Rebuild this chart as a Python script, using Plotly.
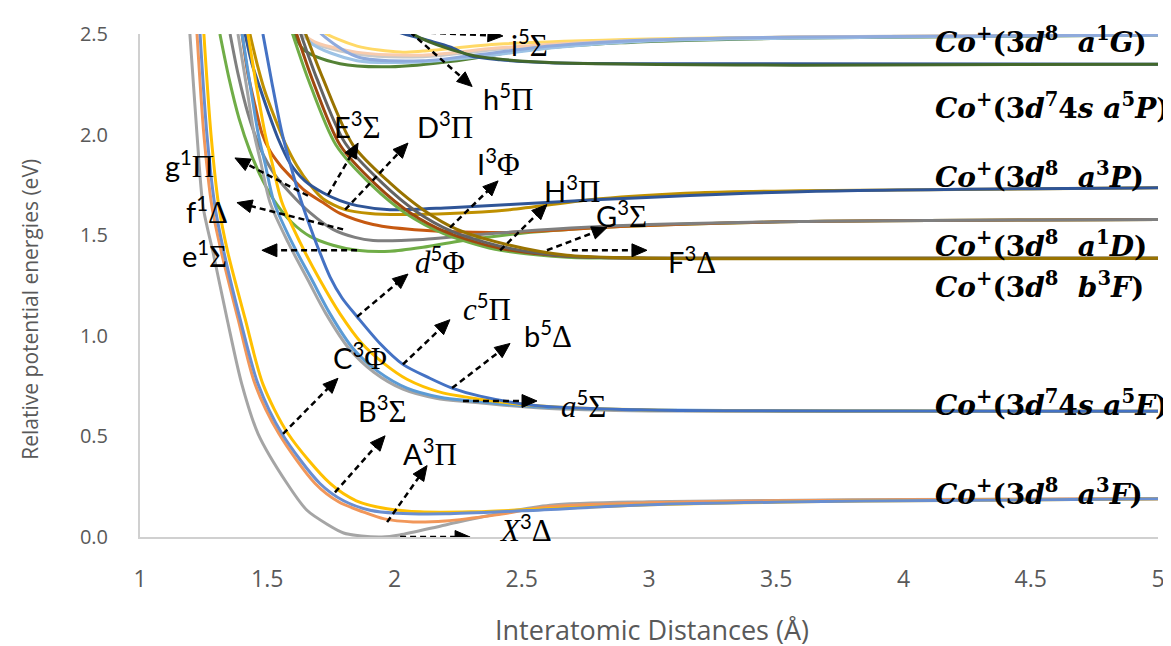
import math
import plotly.graph_objects as go

# ---------------- data: potential energy curves (r in Angstrom, E in eV) ----------------
# Co+(3d8 a3F) asymptote
X3D_r = [1.196, 1.224, 1.248, 1.287, 1.342, 1.40, 1.464, 1.578, 1.656, 1.74, 1.80, 1.87, 1.95, 2.02, 2.2, 2.415, 2.611, 3.0, 3.5, 4.0, 5.0]
X3D_E = [2.5, 2.0, 1.64, 1.415, 1.085, 0.76, 0.513, 0.266, 0.133, 0.06, 0.02, 0.005, 0.0, 0.01, 0.06, 0.118, 0.158, 0.175, 0.182, 0.186, 0.19]
A3P_r = [1.224, 1.251, 1.283, 1.32, 1.385, 1.452, 1.546, 1.688, 1.78, 1.876, 1.96, 2.073, 2.2, 2.4, 2.6, 3.0, 3.5, 4.0, 5.0]
A3P_E = [2.5, 2.0, 1.64, 1.415, 1.085, 0.76, 0.513, 0.266, 0.175, 0.125, 0.09, 0.075, 0.08, 0.11, 0.15, 0.17, 0.18, 0.185, 0.19]
B3S_r = [1.236, 1.263, 1.295, 1.33, 1.393, 1.464, 1.558, 1.707, 1.80, 1.904, 2.01, 2.2, 2.5, 3.0, 3.6, 4.0, 5.0]
B3S_E = [2.5, 2.0, 1.64, 1.415, 1.085, 0.76, 0.513, 0.266, 0.18, 0.133, 0.118, 0.115, 0.13, 0.16, 0.175, 0.18, 0.19]
C3F_r = [1.251, 1.279, 1.31, 1.345, 1.413, 1.483, 1.582, 1.747, 1.85, 1.971, 2.1, 2.3, 2.6, 3.0, 3.6, 4.0, 5.0]
C3F_E = [2.5, 2.0, 1.64, 1.415, 1.085, 0.76, 0.513, 0.266, 0.18, 0.14, 0.125, 0.125, 0.14, 0.16, 0.175, 0.18, 0.19]

# Co+(3d7 4s a5F) asymptote
a5S_r = [1.385, 1.417, 1.448, 1.475, 1.511, 1.582, 1.660, 1.731, 1.821, 1.919, 2.033, 2.163, 2.297, 2.572, 3.004, 3.986, 5.0]
a5S_E = [2.5, 2.253, 2.007, 1.859, 1.662, 1.464, 1.277, 1.109, 0.937, 0.819, 0.735, 0.690, 0.671, 0.641, 0.626, 0.625, 0.625]
b5D_r = [1.401, 1.432, 1.464, 1.491, 1.527, 1.597, 1.676, 1.747, 1.837, 1.935, 2.049, 2.179, 2.308, 2.572, 3.004, 3.986, 5.0]
b5D_E = [2.5, 2.253, 2.007, 1.859, 1.662, 1.464, 1.277, 1.109, 0.937, 0.823, 0.740, 0.695, 0.676, 0.646, 0.631, 0.626, 0.625]
c5P_r = [1.424, 1.456, 1.491, 1.519, 1.558, 1.629, 1.707, 1.786, 1.872, 1.963, 2.049, 2.179, 2.336, 2.572, 3.004, 3.986, 5.0]
c5P_E = [2.5, 2.253, 2.007, 1.859, 1.662, 1.464, 1.277, 1.109, 0.962, 0.858, 0.784, 0.720, 0.685, 0.651, 0.631, 0.626, 0.625]
d5F_r = [1.483, 1.519, 1.558, 1.589, 1.629, 1.684, 1.747, 1.794, 1.853, 1.943, 2.033, 2.139, 2.226, 2.336, 2.572, 3.004, 3.986, 5.0]
d5F_E = [2.5, 2.253, 2.007, 1.859, 1.686, 1.489, 1.292, 1.188, 1.095, 0.962, 0.858, 0.789, 0.740, 0.700, 0.651, 0.631, 0.626, 0.625]

# Co+(3d8 a1D) asymptote
e1S_r = [1.314, 1.350, 1.389, 1.432, 1.483, 1.538, 1.597, 1.668, 1.758, 1.853, 1.982, 2.112, 2.246, 2.493, 2.886, 3.593, 5.0]
e1S_E = [2.5, 2.278, 2.081, 1.918, 1.770, 1.652, 1.563, 1.494, 1.450, 1.425, 1.420, 1.440, 1.469, 1.509, 1.543, 1.568, 1.578]
f1D_r = [1.354, 1.385, 1.424, 1.472, 1.530, 1.589, 1.668, 1.758, 1.845, 1.916, 2.112, 2.336, 2.807, 3.593, 5.0]
f1D_E = [2.5, 2.303, 2.106, 1.933, 1.800, 1.711, 1.612, 1.529, 1.489, 1.474, 1.479, 1.504, 1.543, 1.568, 1.578]
g1P_r = [1.401, 1.424, 1.452, 1.479, 1.511, 1.550, 1.589, 1.648, 1.719, 1.786, 1.916, 2.112, 2.454, 2.886, 3.593, 5.0]
g1P_E = [2.5, 2.303, 2.145, 2.007, 1.918, 1.849, 1.795, 1.721, 1.662, 1.608, 1.553, 1.524, 1.514, 1.543, 1.568, 1.578]

# Co+(3d8 a3P) asymptote
E3S_r = [1.413, 1.440, 1.472, 1.503, 1.542, 1.589, 1.648, 1.719, 1.786, 1.853, 1.982, 2.218, 2.454, 2.807, 3.593, 5.0]
E3S_E = [2.5, 2.352, 2.229, 2.115, 1.982, 1.859, 1.770, 1.711, 1.672, 1.647, 1.627, 1.637, 1.652, 1.677, 1.716, 1.736]
D3P_r = [1.432, 1.460, 1.491, 1.527, 1.570, 1.617, 1.668, 1.719, 1.806, 1.904, 2.022, 2.218, 2.454, 2.807, 3.200, 3.593, 5.0]
D3P_E = [2.5, 2.352, 2.214, 2.091, 1.958, 1.844, 1.751, 1.681, 1.627, 1.608, 1.603, 1.608, 1.627, 1.681, 1.711, 1.721, 1.736]

# Co+(3d8 b3F) asymptote
F3D_r = [1.648, 1.719, 1.837, 1.982, 2.112, 2.246, 2.454, 2.678, 3.004, 5.0]
F3D_E = [2.510, 2.278, 1.948, 1.760, 1.627, 1.529, 1.450, 1.400, 1.386, 1.386]
G3S_r = [1.629, 1.695, 1.806, 1.951, 2.081, 2.226, 2.434, 2.678, 3.004, 5.0]
G3S_E = [2.510, 2.278, 1.958, 1.760, 1.622, 1.519, 1.440, 1.395, 1.386, 1.386]
H3P_r = [1.613, 1.676, 1.786, 1.927, 2.061, 2.206, 2.415, 2.678, 3.004, 5.0]
H3P_E = [2.510, 2.278, 1.948, 1.751, 1.612, 1.514, 1.435, 1.395, 1.386, 1.386]
I3F_r = [1.597, 1.660, 1.770, 1.912, 2.045, 2.191, 2.395, 2.678, 3.004, 5.0]
I3F_E = [2.510, 2.278, 1.948, 1.746, 1.608, 1.509, 1.430, 1.391, 1.386, 1.386]

# Co+(3d8 a1G) asymptote
t1_r = [1.66, 1.707, 1.853, 2.022, 2.112, 2.415, 3.0, 3.593, 5.0]
t1_E = [2.6, 2.52, 2.44, 2.41, 2.415, 2.45, 2.475, 2.485, 2.495]
t2_r = [1.60, 1.656, 1.853, 2.112, 2.415, 2.807, 3.593, 5.0]
t2_E = [2.6, 2.475, 2.40, 2.387, 2.426, 2.46, 2.485, 2.495]
t3_r = [1.61, 1.66, 1.85, 2.11, 2.4, 2.8, 3.6, 5.0]
t3_E = [2.6, 2.48, 2.41, 2.395, 2.43, 2.46, 2.485, 2.495]
t4_r = [1.62, 1.668, 1.853, 2.112, 2.336, 2.611, 3.0, 5.0]
t4_E = [2.6, 2.46, 2.367, 2.362, 2.387, 2.43, 2.465, 2.495]
t5_r = [1.58, 1.64, 1.786, 1.982, 2.246, 2.493, 2.886, 3.593, 5.0]
t5_E = [2.6, 2.426, 2.352, 2.337, 2.367, 2.416, 2.456, 2.48, 2.495]
t6_r = [1.68, 1.695, 1.853, 2.112, 2.297, 2.611, 3.0, 3.593, 5.0]
t6_E = [2.6, 2.525, 2.387, 2.367, 2.392, 2.44, 2.47, 2.485, 2.495]

# h5Pi / i5Sigma
h5P_r = [1.95, 1.994, 2.112, 2.218, 2.297, 2.415, 2.611, 3.0, 5.0]
h5P_E = [2.65, 2.525, 2.475, 2.436, 2.392, 2.372, 2.357, 2.352, 2.35]
i5S_r = [1.98, 2.061, 2.285, 2.544, 3.593, 5.0]
i5S_E = [2.65, 2.51, 2.40, 2.362, 2.345, 2.35]

# ---------------- styles ----------------
curves = [
    (t1_r, t1_E, "#FFD966"), (t2_r, t2_E, "#C9C9C9"), (t3_r, t3_E, "#F8CBAD"),
    (t5_r, t5_E, "#548235"), (t4_r, t4_E, "#9DC3E6"), (t6_r, t6_E, "#8FAADC"),
    (h5P_r, h5P_E, "#2F5597"), (i5S_r, i5S_E, "#43682B"),
    (D3P_r, D3P_E, "#BF9000"), (E3S_r, E3S_E, "#2F5597"),
    (e1S_r, e1S_E, "#70AD47"), (g1P_r, g1P_E, "#C65911"), (f1D_r, f1D_E, "#7F7F7F"),
    (I3F_r, I3F_E, "#70AD47"), (H3P_r, H3P_E, "#9E480E"), (G3S_r, G3S_E, "#636363"), (F3D_r, F3D_E, "#997300"),
    (a5S_r, a5S_E, "#A5A5A5"), (b5D_r, b5D_E, "#5B9BD5"), (c5P_r, c5P_E, "#FFC000"), (d5F_r, d5F_E, "#4472C4"),
    (X3D_r, X3D_E, "#A5A5A5"), (A3P_r, A3P_E, "#F1975A"), (C3F_r, C3F_E, "#FFC000"), (B3S_r, B3S_E, "#698ED0"),
]

fig = go.Figure()
for r, e, c in curves:
    fig.add_trace(go.Scatter(x=r, y=e, mode="lines", line=dict(color=c, width=3, shape="spline", smoothing=0.8),
                             hoverinfo="skip", showlegend=False))

GS = 'font-family:Liberation Serif;font-size:31px'
def gr(ch):
    return '<span style="%s">%s</span>' % (GS, ch)
def it(ch):
    return '<span style="%s"><i>%s</i></span>' % (GS, ch)

# state labels: text, tail(r,E), head(r,E), label position(r,E)
state_text = [it("X") + "<sup>3</sup>" + gr("Δ"), "A<sup>3</sup>" + gr("Π"), "B<sup>3</sup>" + gr("Σ"), "C<sup>3</sup>" + gr("Φ"),
              it("a") + "<sup>5</sup>" + gr("Σ"), "b<sup>5</sup>" + gr("Δ"), it("c") + "<sup>5</sup>" + gr("Π"), it("d") + "<sup>5</sup>" + gr("Φ"),
              "e<sup>1</sup>" + gr("Σ"), "f<sup>1</sup>" + gr("Δ"), "g<sup>1</sup>" + gr("Π"),
              "E<sup>3</sup>" + gr("Σ"), "D<sup>3</sup>" + gr("Π"),
              "I<sup>3</sup>" + gr("Φ"), "H<sup>3</sup>" + gr("Π"), "G<sup>3</sup>" + gr("Σ"), "F<sup>3</sup>" + gr("Δ"),
              "h<sup>5</sup>" + gr("Π"), "i<sup>5</sup>" + gr("Σ")]
tail_r = [2.022, 1.971, 1.766, 1.562, 2.269, 2.226, 2.033, 1.853, 1.853, 1.798, 1.660, 1.739, 1.806, 2.218, 2.415, 2.599, 2.697, 2.061, 2.061]
tail_E = [0.0, 0.074, 0.222, 0.513, 0.676, 0.740, 0.858, 1.095, 1.425, 1.529, 1.696, 1.701, 1.627, 1.538, 1.425, 1.425, 1.425, 2.510, 2.510]
head_r = [2.297, 2.128, 1.963, 1.778, 2.560, 2.454, 2.218, 2.053, 1.479, 1.381, 1.373, 1.857, 2.053, 2.407, 2.599, 2.835, 2.992, 2.305, 2.426]
head_E = [0.0, 0.355, 0.503, 0.789, 0.676, 0.962, 1.080, 1.307, 1.425, 1.662, 1.884, 1.958, 1.958, 1.770, 1.652, 1.538, 1.425, 2.239, 2.490]
lab_r = [2.513, 2.139, 1.951, 1.864, 2.741, 2.603, 2.363, 2.179, 1.255, 1.263, 1.196, 1.853, 2.198, 2.407, 2.697, 2.890, 3.169, 2.446, 2.532]
lab_E = [0.044, 0.419, 0.636, 0.897, 0.661, 1.006, 1.139, 1.376, 1.405, 1.622, 1.849, 2.046, 2.046, 1.859, 1.726, 1.603, 1.376, 2.185, 2.451]

# asymptote labels
asym_term = ["<i>a</i><sup>1</sup><i>G</i>", "<i>a</i><sup>5</sup><i>P</i>", "<i>a</i><sup>3</sup><i>P</i>", "<i>a</i><sup>1</sup><i>D</i>",
             "<i>b</i><sup>3</sup><i>F</i>", "<i>a</i><sup>5</sup><i>F</i>", "<i>a</i><sup>3</sup><i>F</i>"]
asym_conf = ["8", "7 4s", "8", "8", "8", "7 4s", "8"]
asym_E = [2.470, 2.140, 1.795, 1.455, 1.252, 0.666, 0.222]

PXR = 1018 / 4.0
PXE = 507 / 2.5
ann = []
shapes = []
HEAD_L, HEAD_W = 15, 6.5
for i in range(len(state_text)):
    dxp = (head_r[i] - tail_r[i]) * PXR
    dyp = (head_E[i] - tail_E[i]) * PXE
    L = math.hypot(dxp, dyp)
    ux, uy = dxp / L, dyp / L
    nx, ny = -uy, ux
    bx = head_r[i] - ux * HEAD_L / PXR
    by = head_E[i] - uy * HEAD_L / PXE
    shapes.append(dict(type="line", xref="x", yref="y", x0=tail_r[i], y0=tail_E[i],
                       x1=head_r[i] - ux * (HEAD_L - 2) / PXR, y1=head_E[i] - uy * (HEAD_L - 2) / PXE,
                       line=dict(color="black", width=2.5, dash="6px,4px"), layer="above"))
    p1 = (bx + nx * HEAD_W / PXR, by + ny * HEAD_W / PXE)
    p2 = (bx - nx * HEAD_W / PXR, by - ny * HEAD_W / PXE)
    path = "M %f,%f L %f,%f L %f,%f Z" % (head_r[i], head_E[i], p1[0], p1[1], p2[0], p2[1])
    shapes.append(dict(type="path", xref="x", yref="y", path=path, fillcolor="black",
                       line=dict(color="black", width=1), layer="above"))
    ann.append(dict(x=lab_r[i], y=lab_E[i], xref="x", yref="y", text=state_text[i], showarrow=False,
                    xanchor="center", yanchor="middle", font=dict(family="Lato", size=29, color="black")))

for term, conf, e in zip(asym_term, asym_conf, asym_E):
    if " " in conf:
        d, s = conf.split()
        txt = "<b><i>Co</i><sup>+</sup>(3<i>d</i><sup>%s</sup>%s<i>s</i> %s)</b>" % (d, s[0], term)
    else:
        txt = "<b><i>Co</i><sup>+</sup>(3<i>d</i><sup>%s</sup>&nbsp;&nbsp;%s)</b>" % (conf, term)
    ann.append(dict(x=4.116, y=e, xref="x", yref="y", text=txt, showarrow=False, xanchor="left",
                    yanchor="middle", font=dict(family="DejaVu Serif", size=28, color="black")))

ann.append(dict(x=-0.108, y=0.452, xref="paper", yref="paper", text="Relative potential energies (eV)",
                textangle=-90, showarrow=False, xanchor="center", yanchor="middle",
                font=dict(family="Open Sans", size=21, color="#595959")))
ann.append(dict(x=0.503, y=-0.183, xref="paper", yref="paper", text="Interatomic Distances (Å)",
                showarrow=False, xanchor="center", yanchor="middle",
                font=dict(family="Open Sans", size=27, color="#595959")))

fig.update_layout(
    width=1171, height=646, margin=dict(l=132, r=21, t=18, b=117),
    plot_bgcolor="white", paper_bgcolor="white", showlegend=False,
    annotations=ann, shapes=shapes,
    xaxis=dict(range=[1, 5], tickvals=[1, 1.5, 2, 2.5, 3, 3.5, 4, 4.5, 5],
               ticktext=["1", "1.5", "2", "2.5", "3", "3.5", "4", "4.5", "5"],
               showgrid=False, zeroline=False, showline=True, linecolor="#D0D0D0", linewidth=2,
               ticks="", ticklabelstandoff=20,
               tickfont=dict(family="Open Sans", size=23, color="#595959")),
    yaxis=dict(range=[0, 2.5], tickvals=[0, 0.5, 1, 1.5, 2, 2.5],
               ticktext=["0.0", "0.5", "1.0", "1.5", "2.0", "2.5"],
               showgrid=False, zeroline=False, showline=True, linecolor="#D0D0D0", linewidth=2,
               ticks="", ticklabelstandoff=26,
               tickfont=dict(family="Open Sans", size=20, color="#595959")),
)
fig.write_html("out.html")
